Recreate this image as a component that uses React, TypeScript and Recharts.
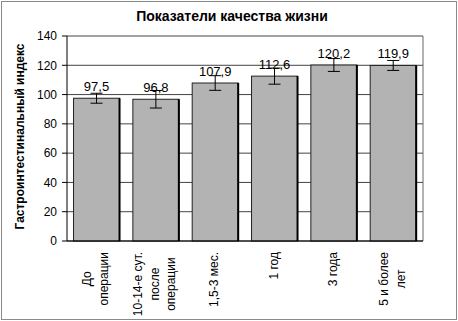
import { Bar, BarChart, CartesianGrid, ErrorBar, LabelList, ReferenceLine, XAxis, YAxis } from "recharts";

const categories = [
  ["До", "операции"],
  ["10-14-е сут.", "после", "операции"],
  ["1,5-3 мес."],
  ["1 год"],
  ["3 года"],
  ["5 и более", "лет"],
];
const values = [97.5, 96.8, 107.9, 112.6, 120.2, 119.9];
const errors = [3.4, 6, 5, 5.5, 4.4, 3.4];
const yTicks = [0, 20, 40, 60, 80, 100, 120, 140];
const boundaryTicks = [0, 1, 2, 3, 4, 5, 6];

const data = values.map((v, i) => ({ name: categories[i].join(" "), idx: i, value: v, err: errors[i] }));

const FONT = "'Liberation Sans', Arial, sans-serif";

let ctx: CanvasRenderingContext2D | null = null;
function textWidth(s: string) {
  if (!ctx) ctx = document.createElement("canvas").getContext("2d");
  if (!ctx) return s.length * 6.5;
  ctx.font = `12px ${FONT}`;
  return ctx.measureText(s).width;
}

function CategoryTick(props: any) {
  const { x, payload } = props;
  const lines = categories[payload.index] ?? [];
  const maxW = Math.max(...lines.map(textWidth));
  const top = 252;
  const cy = top + maxW / 2;
  return (
    <g>
      {lines.map((l, i) => {
        const vx = x + (i - (lines.length - 1) / 2) * 16.5 - 1;
        const bx = vx + 4;
        return (
          <text
            key={i}
            x={bx}
            y={cy}
            transform={`rotate(-90, ${bx}, ${cy})`}
            textAnchor="middle"
            fontSize={12}
            fontFamily={FONT}
            fill="#000"
          >
            {l}
          </text>
        );
      })}
    </g>
  );
}

function BarShape(props: any) {
  const { x, y, width, height } = props;
  return (
    <g>
      <rect x={x} y={y} width={width} height={height} fill="#b3b3b3" stroke="#222" strokeWidth={1} />
      <line x1={x + width} y1={y} x2={x + width} y2={y + height} stroke="#000" strokeWidth={2} />
    </g>
  );
}

function YLabel(props: any) {
  const vb = props.viewBox;
  const cx = 24;
  const cy = vb.y + vb.height / 2 - 2;
  return (
    <text
      x={cx}
      y={cy}
      transform={`rotate(-90, ${cx}, ${cy})`}
      textAnchor="middle"
      fontSize={12}
      fontWeight="bold"
      fontFamily={FONT}
      fill="#000"
    >
      Гастроинтестинальный индекс
    </text>
  );
}

export default function App() {
  return (
    <div style={{ position: "relative", width: 458, height: 321, background: "#fff", fontFamily: FONT }}>
      <style>{"body{margin:0}"}</style>
      <div
        style={{
          position: "absolute",
          left: 1,
          top: 1,
          width: 456,
          height: 319,
          border: "1px solid #8a8a8a",
          boxSizing: "border-box",
        }}
      />
      <div
        style={{
          position: "absolute",
          left: 0,
          width: 464,
          top: 8,
          textAlign: "center",
          fontSize: 14,
          fontWeight: "bold",
          color: "#000",
        }}
      >
        Показатели качества жизни
      </div>
      <div style={{ position: "absolute", left: 0, top: 0 }}>
        <BarChart
          width={458}
          height={321}
          data={data}
          margin={{ top: 36, right: 35, bottom: 0, left: 0 }}
          barCategoryGap="11%"
        >
          <CartesianGrid horizontal vertical={false} stroke="#444" />
          <XAxis
            type="number"
            dataKey="idx"
            domain={[0, 6]}
            ticks={boundaryTicks}
            tick={false}
            tickSize={4}
            height={5}
            stroke="#000"
            allowDataOverflow
          />
          <XAxis
            xAxisId="cat"
            dataKey="name"
            interval={0}
            axisLine={false}
            tickLine={false}
            height={75}
            tick={<CategoryTick />}
          />
          <YAxis
            domain={[0, 140]}
            ticks={yTicks}
            tickSize={5}
            tickMargin={5}
            width={67}
            stroke="#000"
            tick={{ fontSize: 12, fill: "#000", fontFamily: FONT }}
            label={<YLabel />}
          />
          <ReferenceLine x={6} stroke="#666" />
          <Bar dataKey="value" xAxisId="cat" shape={<BarShape />} isAnimationActive={false}>
            <ErrorBar dataKey="err" width={6} stroke="#000" strokeWidth={1} />
            <LabelList
              dataKey="value"
              position="top"
              offset={7}
              fontSize={13}
              fill="#000"
              fontFamily={FONT}
              formatter={(v: any) => String(v).replace(".", ",")}
            />
          </Bar>
        </BarChart>
      </div>
    </div>
  );
}
